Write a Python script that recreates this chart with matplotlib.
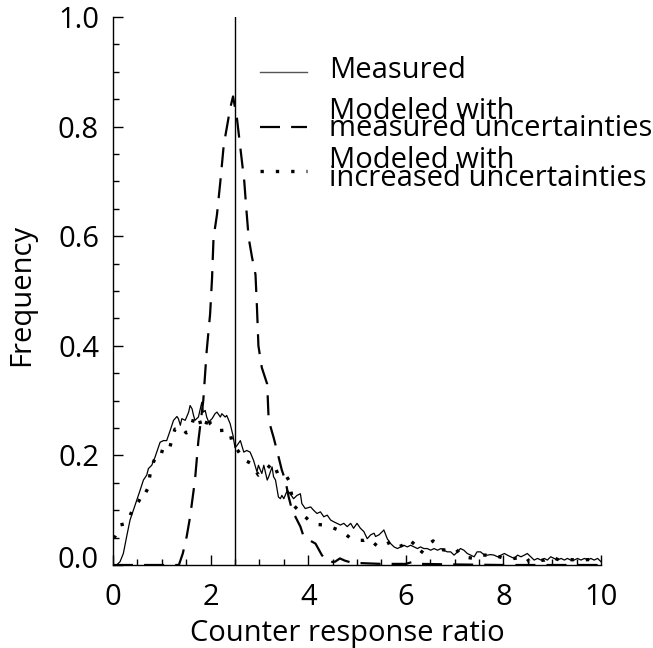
import matplotlib
matplotlib.use("Agg")
import matplotlib.pyplot as plt
from matplotlib.ticker import MultipleLocator, FuncFormatter
import matplotlib.transforms as mtransforms

plt.rcParams['font.family'] = ['Open Sans', 'DejaVu Sans']

# ---------------- data ----------------
meas_x = [0.0, 0.075, 0.144, 0.212, 0.28, 0.349, 0.418, 0.486, 0.554, 0.623, 0.691, 0.726, 0.794, 0.862,
          0.931, 0.965, 1.033, 1.10, 1.17, 1.24, 1.31, 1.34, 1.38, 1.41, 1.48, 1.55, 1.58, 1.62, 1.65, 1.68,
          1.75, 1.82, 1.85, 1.89, 1.92, 1.96, 2.03, 2.09, 2.13, 2.20, 2.23, 2.30, 2.33, 2.40, 2.46, 2.50,
          2.54, 2.61, 2.68, 2.74, 2.81, 2.88, 2.95, 2.98, 3.02, 3.05, 3.09, 3.16, 3.19, 3.26, 3.29, 3.33,
          3.36, 3.39, 3.43, 3.46, 3.50, 3.57, 3.63, 3.70, 3.77, 3.84, 3.87, 3.94, 4.05, 4.11, 4.18, 4.25,
          4.32, 4.39, 4.46, 4.52, 4.59, 4.66, 4.73, 4.80,
          4.87, 4.93, 5.00, 5.07, 5.14, 5.21, 5.28, 5.35, 5.38, 5.45, 5.52, 5.55, 5.62, 5.69, 5.76, 5.83,
          5.89, 5.96, 6.03, 6.10, 6.17, 6.24, 6.30, 6.37, 6.44, 6.51, 6.58, 6.65, 6.72, 6.78, 6.85, 6.92,
          6.99, 7.06, 7.12, 7.19, 7.26, 7.33, 7.40, 7.46, 7.53,
          7.60, 7.67, 7.74, 7.81, 7.88, 7.95, 8.02, 8.08, 8.15, 8.22, 8.29, 8.36, 8.43, 8.49, 8.56, 8.63,
          8.70, 8.77, 8.84, 8.90, 8.97, 9.04, 9.11, 9.18, 9.25, 9.31, 9.38, 9.45, 9.52, 9.59, 9.66, 9.73,
          9.79, 9.86, 9.93, 10.0]
meas_y = [0.0, 0.0, 0.006, 0.021, 0.052, 0.082, 0.100, 0.118, 0.136, 0.155, 0.164, 0.176, 0.182, 0.197,
          0.215, 0.224, 0.227, 0.227, 0.245, 0.264, 0.271, 0.267, 0.255, 0.267, 0.264, 0.279, 0.291, 0.285,
          0.273, 0.264, 0.270, 0.297, 0.279, 0.282, 0.270, 0.261, 0.267, 0.276, 0.279, 0.270, 0.276, 0.270,
          0.273, 0.258, 0.236, 0.214, 0.218, 0.227, 0.206, 0.209, 0.206, 0.191, 0.170, 0.182, 0.173, 0.167,
          0.182, 0.155, 0.161, 0.179, 0.161, 0.155, 0.139, 0.124, 0.121, 0.127, 0.121, 0.136, 0.130, 0.121,
          0.127, 0.130, 0.112, 0.103, 0.106, 0.100, 0.094, 0.097, 0.088, 0.091, 0.082, 0.079, 0.076, 0.073,
          0.076, 0.070,
          0.076, 0.067, 0.076, 0.067, 0.061, 0.048, 0.055, 0.058, 0.052, 0.055, 0.061, 0.064, 0.048, 0.039,
          0.033, 0.030, 0.033, 0.036, 0.033, 0.036, 0.033, 0.030, 0.033, 0.030, 0.030, 0.027, 0.030, 0.027,
          0.030, 0.027, 0.024, 0.024, 0.018, 0.024, 0.030, 0.027, 0.021, 0.018, 0.015, 0.024, 0.024,
          0.019, 0.018, 0.019, 0.018, 0.015, 0.018, 0.021, 0.018, 0.015, 0.012, 0.018, 0.015, 0.018, 0.021,
          0.015, 0.009, 0.012, 0.009, 0.012, 0.009, 0.015, 0.012, 0.009, 0.012, 0.009, 0.012, 0.009, 0.009,
          0.012, 0.009, 0.012, 0.009, 0.012, 0.009, 0.012, 0.006]

mod_meas_x = [0.0, 1.0, 1.35, 1.43, 1.51, 1.58, 1.68, 1.75, 1.85, 1.92, 1.99, 2.03, 2.06, 2.13, 2.20,
              2.27, 2.33, 2.40, 2.46, 2.54, 2.61, 2.69, 2.73, 2.78, 2.85, 2.92, 2.95, 2.98, 3.05, 3.16,
              3.19, 3.29, 3.36, 3.46, 3.53, 3.60, 3.67, 3.84, 3.91, 4.15, 4.28, 4.40, 4.55, 4.65, 4.75,
              4.90, 5.20, 5.50, 6.00, 6.15, 6.30, 7.00, 8.00, 9.00, 10.0]
mod_meas_y = [0.0, 0.0, 0.0, 0.021, 0.052, 0.088, 0.155, 0.227, 0.300, 0.391, 0.458, 0.524, 0.597, 0.639,
              0.700, 0.767, 0.797, 0.833, 0.855, 0.815, 0.761, 0.700, 0.652, 0.597, 0.561, 0.530, 0.470,
              0.400, 0.360, 0.330, 0.264, 0.233, 0.209, 0.173, 0.155, 0.124, 0.100, 0.070, 0.051, 0.039,
              0.018, 0.005, 0.006, 0.012, 0.008, 0.004, 0.003, 0.002, 0.002, 0.006, 0.002, 0.001, 0.0,
              0.0, 0.0]

mod_inc_x = [0.0, 0.041, 0.144, 0.28, 0.383, 0.52, 0.623, 0.657, 0.726, 0.76, 0.83, 0.93, 1.136, 1.20,
             1.27, 1.34, 1.41, 1.50, 1.58, 1.65, 1.75, 1.82, 1.89, 1.96, 1.99, 2.13, 2.30, 2.39, 2.44,
             2.55, 2.68, 2.84, 2.98, 3.10, 3.22, 3.26, 3.43, 3.50, 3.60, 3.63, 3.70, 3.85, 4.01, 4.18,
             4.32, 4.50, 4.70, 4.85, 5.00, 5.14, 5.24, 5.45, 5.69, 5.83, 5.93, 6.06, 6.20, 6.30, 6.44,
             6.56, 6.68, 6.82, 7.02, 7.16, 7.40, 7.57, 7.81, 8.02, 8.22, 8.46, 8.53, 8.84, 8.97, 9.15,
             9.31, 9.55, 9.79, 10.0]
mod_inc_y = [0.050, 0.052, 0.073, 0.076, 0.097, 0.115, 0.133, 0.130, 0.142, 0.167, 0.188, 0.209, 0.204,
             0.227, 0.248, 0.248, 0.252, 0.241, 0.245, 0.267, 0.273, 0.248, 0.252, 0.273, 0.258, 0.245,
             0.246, 0.245, 0.224, 0.210, 0.192, 0.185, 0.164, 0.170, 0.182, 0.167, 0.173, 0.170, 0.155,
             0.142, 0.109, 0.095, 0.082, 0.074, 0.073, 0.068, 0.061, 0.050, 0.045, 0.045, 0.048, 0.032,
             0.042, 0.032, 0.036, 0.047, 0.036, 0.021, 0.036, 0.044, 0.029, 0.027, 0.030, 0.015, 0.012,
             0.018, 0.018, 0.012, 0.012, 0.015, 0.006, 0.009, 0.015, 0.009, 0.010, 0.009, 0.010, 0.012]

ref_ratio = 2.5
x_label = "Counter response ratio"
y_label = "Frequency"
legend_labels = [["Measured"],
                 ["Modeled with", "measured uncertainties"],
                 ["Modeled with", "increased uncertainties"]]

# ---------------- figure ----------------
W, H = 653, 648
X0, X1, Y0, Y1 = 113, 601, 565, 17   # axes box in pixels
fig = plt.figure(figsize=(W / 100, H / 100), dpi=100)
ax = fig.add_axes([X0 / W, 1 - Y0 / H, (X1 - X0) / W, (Y0 - Y1) / H])

DASH = (0, (9, 5))
DOT = (0, (1, 3.6))
ax.plot(meas_x, meas_y, color='black', lw=0.9, zorder=3)
ax.plot(mod_meas_x, mod_meas_y, color='black', lw=1.6, ls=DASH, zorder=3)
ax.plot(mod_inc_x, mod_inc_y, color='black', lw=2.4, ls=DOT, zorder=3)
ax.axvline(ref_ratio, color='black', lw=1.0, zorder=2)

ax.set_xlim(0, 10)
ax.set_ylim(0, 1.0)
for s in ['top', 'right']:
    ax.spines[s].set_visible(False)
for s in ['left', 'bottom']:
    ax.spines[s].set_linewidth(1.0)

ax.xaxis.set_major_locator(MultipleLocator(2))
ax.xaxis.set_minor_locator(MultipleLocator(0.5))
ax.yaxis.set_major_locator(MultipleLocator(0.2))
ax.yaxis.set_minor_locator(MultipleLocator(0.05))
ax.tick_params(which='both', direction='in', width=1.0, labelsize=21)
ax.tick_params(which='major', length=7)
ax.tick_params(which='minor', length=4)
ax.tick_params(axis='x', which='major', pad=13)
ax.tick_params(axis='y', which='major', pad=10)
ax.xaxis.set_major_formatter(FuncFormatter(lambda v, p: f"{v:.0f}"))
ax.yaxis.set_major_formatter(FuncFormatter(lambda v, p: f"{v:.1f}"))

fig.canvas.draw()
for lab in ax.get_yticklabels():
    if lab.get_text() == "0.0":
        lab.set_transform(lab.get_transform() + mtransforms.ScaledTranslation(0, 8 / 100, fig.dpi_scale_trans))

ax.set_xlabel(x_label, fontsize=21, va='baseline')
ax.xaxis.set_label_coords((347 - X0) / (X1 - X0), (Y0 - 641) / (Y0 - Y1))
ax.set_ylabel(y_label, fontsize=21, va='center', rotation_mode='anchor')
ax.yaxis.set_label_coords((22 - X0) / (X1 - X0), (Y0 - 295) / (Y0 - Y1))

# ---------------- legend (manual) ----------------
def px2fig(x, y):
    return x / W, 1 - y / H

styles = [dict(color='#555555', lw=1.0, ls='-'),
          dict(color='black', lw=1.6, ls=DASH),
          dict(color='black', lw=2.4, ls=DOT)]
handle_y = [72, 127, 171]
text_baselines = [[78], [119, 136], [168, 186]]
for st, hy, labels, bases in zip(styles, handle_y, legend_labels, text_baselines):
    (x0, y0), (x1, _) = px2fig(260, hy), px2fig(307, hy)
    fig.add_artist(plt.Line2D([x0, x1], [y0, y0], transform=fig.transFigure, **st))
    for lab, b in zip(labels, bases):
        tx, ty = px2fig(329, b)
        fig.text(tx, ty, lab, fontsize=21, ha='left', va='baseline')

fig.savefig("out.png", dpi=100)
